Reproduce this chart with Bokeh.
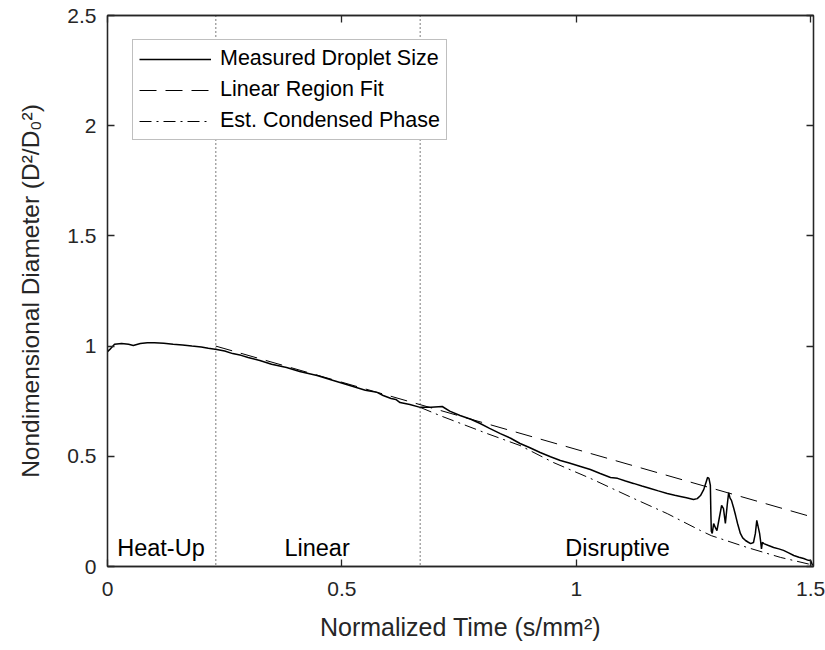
from bokeh.plotting import figure
from bokeh.models import (Range1d, FixedTicker, LinearAxis, Legend, LegendItem,
                          Span, ColumnDataSource, CustomJSTickFormatter)
from bokeh.core.properties import value
from bokeh.embed import file_html
from bokeh.resources import INLINE

# ---------------- data ----------------
meas_t = [0.000, 0.005, 0.015, 0.030, 0.045, 0.055, 0.070, 0.085, 0.100, 0.120,
          0.140, 0.160, 0.180, 0.200, 0.215, 0.233, 0.250, 0.267, 0.285, 0.300,
          0.325, 0.350, 0.382, 0.410, 0.447, 0.480, 0.517, 0.550, 0.575, 0.588,
          0.605, 0.615, 0.624, 0.645, 0.667, 0.690, 0.714, 0.730, 0.752, 0.775,
          0.795, 0.815, 0.838, 0.860, 0.880, 0.900, 0.923, 0.945, 0.966, 0.985,
          1.009, 1.030, 1.051, 1.073, 1.088, 1.105, 1.122, 1.140, 1.158, 1.175,
          1.194, 1.210, 1.222, 1.235, 1.250, 1.258, 1.265, 1.272, 1.276, 1.280,
          1.283, 1.286, 1.287, 1.288, 1.290, 1.293, 1.297, 1.300, 1.305, 1.310,
          1.314, 1.318, 1.322, 1.325, 1.328, 1.331, 1.336, 1.340, 1.344, 1.350,
          1.355, 1.361, 1.367, 1.372, 1.378, 1.382, 1.385, 1.388, 1.391, 1.393,
          1.395, 1.397, 1.400, 1.410, 1.421, 1.432, 1.442, 1.453, 1.464, 1.475,
          1.485, 1.495, 1.500, 1.504]
meas_d2 = [0.975, 0.985, 1.008, 1.012, 1.008, 1.003, 1.012, 1.015, 1.015, 1.013,
           1.008, 1.005, 1.000, 0.996, 0.990, 0.985, 0.978, 0.966, 0.958, 0.948,
           0.935, 0.918, 0.903, 0.885, 0.867, 0.845, 0.821, 0.800, 0.790, 0.776,
           0.762, 0.758, 0.744, 0.735, 0.722, 0.722, 0.726, 0.705, 0.685, 0.668,
           0.649, 0.627, 0.603, 0.582, 0.558, 0.540, 0.517, 0.498, 0.481, 0.470,
           0.454, 0.440, 0.422, 0.404, 0.400, 0.388, 0.377, 0.365, 0.354, 0.343,
           0.331, 0.323, 0.318, 0.312, 0.304, 0.308, 0.322, 0.350, 0.377, 0.404,
           0.400, 0.368, 0.250, 0.160, 0.150, 0.195, 0.175, 0.163, 0.220, 0.277,
           0.263, 0.195, 0.280, 0.335, 0.310, 0.300, 0.263, 0.230, 0.195, 0.150,
           0.130, 0.118, 0.110, 0.104, 0.109, 0.150, 0.209, 0.180, 0.150, 0.118,
           0.080, 0.110, 0.104, 0.095, 0.086, 0.080, 0.073, 0.062, 0.050, 0.042,
           0.036, 0.028, 0.027, 0.005]

fit_t = [0.231, 1.506]
fit_d2 = [1.000, 0.223]

cond_t = [0.667, 0.709, 0.810, 0.880, 0.951, 1.030, 1.122, 1.194, 1.265, 1.288,
          1.365, 1.436, 1.500]
cond_d2 = [0.722, 0.685, 0.603, 0.549, 0.472, 0.400, 0.309, 0.240, 0.163, 0.140,
           0.086, 0.041, 0.009]

phase_bounds = [0.231, 0.667]
phase_names = ["Heat-Up", "Linear", "Disruptive"]
phase_label_t = [0.114, 0.447, 1.088]
phase_label_d2 = [0.085, 0.085, 0.085]

x_ticks = [0, 0.5, 1, 1.5]
x_tick_labels = ["0", "0.5", "1", "1.5"]
y_ticks = [0, 0.5, 1, 1.5, 2, 2.5]
y_tick_labels = ["0", "0.5", "1", "1.5", "2", "2.5"]

legend_labels = ["Measured Droplet Size", "Linear Region Fit", "Est. Condensed Phase"]

# ---------------- figure ----------------
FONT = "Liberation Sans"
AX = "#262626"

p = figure(width=825, height=650, x_range=Range1d(0, 1.506), y_range=Range1d(0, 2.5),
           output_backend="svg", toolbar_location=None,
           min_border_left=107, min_border_right=12, min_border_top=15, min_border_bottom=84)
p.background_fill_color = "white"
p.border_fill_color = "white"
p.outline_line_color = AX
p.outline_line_width = 1.3
p.xgrid.visible = False
p.ygrid.visible = False

def style_axis(ax, ticks, labels=None):
    ax.ticker = FixedTicker(ticks=ticks)
    ax.major_tick_in = 7
    ax.major_tick_out = 0
    ax.minor_tick_line_color = None
    ax.major_tick_line_color = AX
    ax.major_tick_line_width = 1.3
    ax.axis_line_color = AX
    ax.axis_line_width = 1.3
    if labels is not None:
        ax.major_label_overrides = {t: l for t, l in zip(ticks, labels)}
        ax.major_label_text_font = FONT
        ax.major_label_text_font_size = "21px"
        ax.major_label_text_color = AX

xa = p.xaxis[0]
style_axis(xa, x_ticks, x_tick_labels)
xa.major_label_standoff = 15
xa.axis_label = "Normalized Time (s/mm\u00b2)"
xa.axis_label_text_font = FONT
xa.axis_label_text_font_size = "25px"
xa.axis_label_text_font_style = "normal"
xa.axis_label_text_color = AX
xa.axis_label_standoff = 14

ya = p.yaxis[0]
style_axis(ya, y_ticks, y_tick_labels)
ya.major_label_standoff = 11
ya.axis_label = "Nondimensional Diameter (D\u00b2/D\u2080\u00b2)"
ya.axis_label_text_font = FONT
ya.axis_label_text_font_size = "24.5px"
ya.axis_label_text_font_style = "normal"
ya.axis_label_text_color = AX
ya.axis_label_standoff = 20

blank = CustomJSTickFormatter(code="return ''")
top = LinearAxis(formatter=blank)
style_axis(top, x_ticks)
top.major_label_standoff = 0
p.add_layout(top, "above")
right = LinearAxis(formatter=blank)
style_axis(right, y_ticks)
right.major_label_standoff = 0
p.add_layout(right, "right")

# phase boundaries
for b in phase_bounds:
    p.add_layout(Span(location=b, dimension="height", line_color=AX,
                      line_width=1.2, line_dash="1 3"))

# curves
r_meas = p.line(meas_t, meas_d2, line_color="black", line_width=1.5)
r_fit = p.line(fit_t, fit_d2, line_color="black", line_width=1, line_dash="17 9")
r_cond = p.line(cond_t, cond_d2, line_color="black", line_width=1, line_dash="12 5 2 5")

# phase labels
src = ColumnDataSource(dict(x=phase_label_t, y=phase_label_d2, t=phase_names))
p.text(x="x", y="y", text="t", source=src, text_font=value(FONT), text_font_size="23.5px",
       text_align="center", text_baseline="middle", text_color="black")

legend = Legend(items=[LegendItem(label=legend_labels[0], renderers=[r_meas]),
                       LegendItem(label=legend_labels[1], renderers=[r_fit]),
                       LegendItem(label=legend_labels[2], renderers=[r_cond])],
                location=(25, 426))
legend.label_text_font = FONT
legend.label_text_font_size = "21.5px"
legend.label_text_color = "black"
legend.glyph_width = 72
legend.glyph_height = 24
legend.label_height = 24
legend.spacing = 6
legend.padding = 6
legend.margin = 0
legend.label_standoff = 9
legend.border_line_color = "#7f7f7f"
legend.border_line_width = 1
legend.background_fill_color = "white"
legend.background_fill_alpha = 1
p.add_layout(legend, "center")

open("out.html", "w").write(file_html(p, INLINE))
